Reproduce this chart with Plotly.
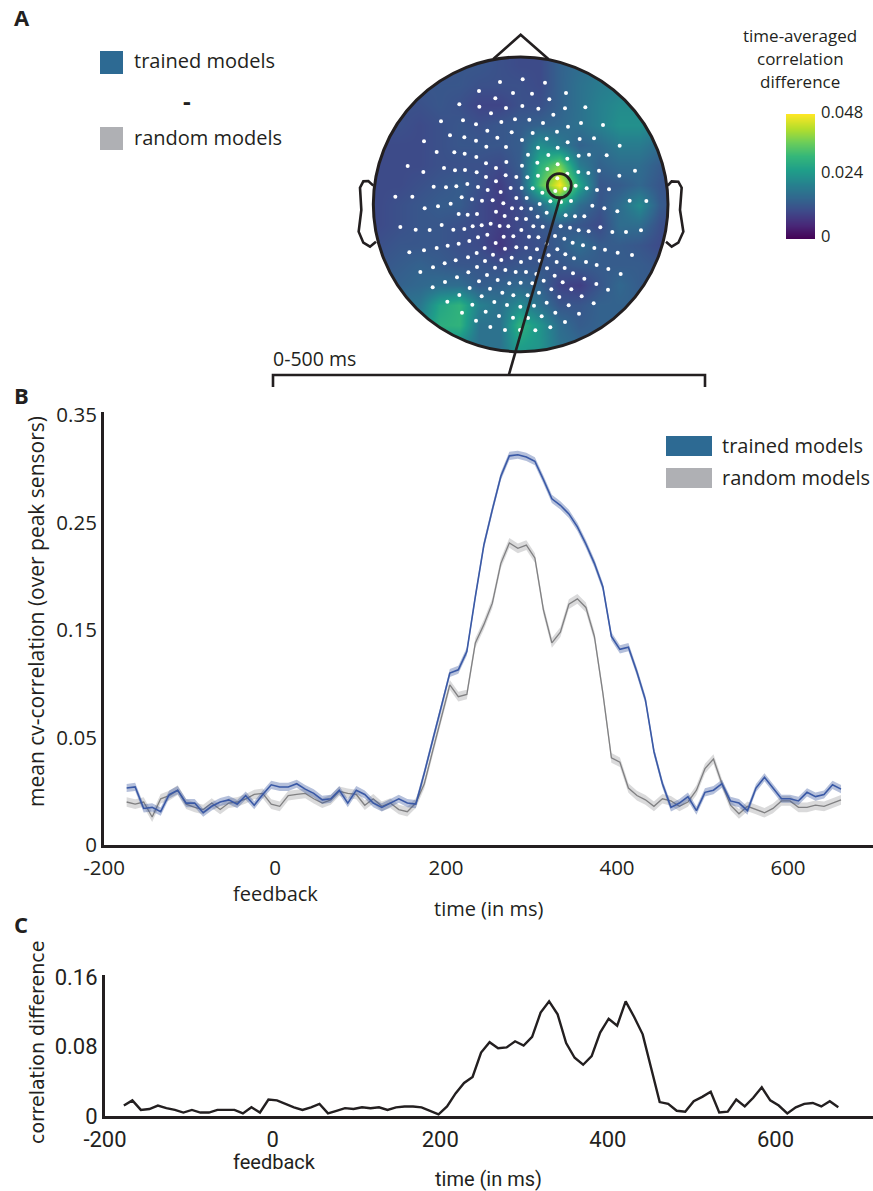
import numpy as np
import plotly.graph_objects as go

W, H = 873, 1191
INK = "#231f20"
FONT = "Open Sans"
FONT_C = "Roboto"

# ---------- panel B ----------
TRAINED_B = [.053,.054,.034,.035,.031,.047,.051,.039,.039,.030,.036,.040,.042,.038,.046,.037,.047,.056,.054,.054,
             .057,.052,.048,.042,.043,.051,.039,.051,.047,.039,.035,.039,.043,.039,.038,.067,.098,.128,.160,
             .163,.180,.231,.279,.312,.343,.362,.363,.361,.357,.340,.322,.316,.308,.296,.280,.262,.240,.194,.182,.184,
             .161,.135,.087,.057,.035,
             .039,.045,.032,.049,.051,.057,.041,.039,.032,.053,.063,.053,.043,.043,.041,.049,.045,.047,.056,.052]
RANDOM_B = [.040,.038,.040,.026,.043,.046,.051,.038,.035,.033,.039,.033,.039,.040,.043,.047,.048,.038,.036,.046,
            .047,.048,.043,.039,.042,.050,.048,.047,.037,.043,.036,.039,.033,.031,.039,
            .057,.088,.119,.149,.138,.140,.188,.205,.225,.262,.281,.276,.279,.267,.219,.188,.198,.224,.229,.221,.194,
            .141,.081,.077,.053,.046,.042,.036,.043,.041,
            .036,.040,.051,.071,.080,.057,.037,.029,.036,.033,.030,.034,.041,.041,.035,.035,.037,.036,.039,.042]
TRAINED_SEM = 0.0038
RANDOM_SEM = 0.0045
TIME_B = np.linspace(-173.5, 662, len(TRAINED_B))
B_TICK_POS = [0, .1, .2, .3, .4]
B_TICK_TEXT = ["0", "0.05", "0.15", "0.25", "0.35"]
X_TICKS = [-200, 0, 200, 400, 600]
X_TICK_TEXT = ["-200", "0", "200", "400", "600"]

# ---------- panel C ----------
DIFF_C = [.012,.018,.007,.008,.012,.009,.007,.004,.007,.004,.004,.007,.007,.007,.003,.010,.004,.019,.018,.014,
          .010,.007,.010,.014,.003,.006,.009,.008,.010,.009,.010,.007,.010,.011,.011,.010,.006,.002,
          .011,.026,.038,.045,.073,.085,.078,.079,.086,.081,.091,.119,.132,.117,.084,.067,.059,.069,.096,.112,.104,
          .132,.114,.094,.055,.016,
          .014,.006,.005,.017,.022,.028,.004,.005,.019,.011,.021,.033,.018,.012,.003,.010,.014,.015,.011,.017,.010]
TIME_C = np.linspace(-177.5, 675, len(DIFF_C))
C_TICKS = [0, .08, .16]
C_TICK_TEXT = ["0", "0.08", "0.16"]

# ---------- panel A ----------
HEAT_X = [28,88,148,208,268,328,388,448,508,568,628,688,748,808,868,928,988,1048]
HEAT_Y = [75,135,195,255,315,375,435,495,555,615,675,735,795,855,915,975,1035]
HEAT_MILLI = [
 [12,12,12,12,12,12,13,12,11,11,15,18,19,20,20,20,18,15],
 [12,12,12,12,12,13,13,12,11,11,15,17,19,20,20,20,18,15],
 [12,12,12,13,13,13,12,12,12,11,15,18,20,21,22,21,18,15],
 [12,12,12,12,13,12,10,10,12,12,15,18,21,23,23,21,18,15],
 [12,12,12,11,12,13,12,13,14,15,16,18,21,24,24,21,18,15],
 [11,11,11,11,12,13,13,13,14,24,20,15,17,20,20,17,15,14],
 [11,11,11,11,12,12,12,11,14,30,38,20,15,17,17,14,13,13],
 [11,11,11,12,13,14,12, 9,13,34,48,28,13,14,16,13,12,12],
 [11,11,12,13,14,14,11, 9,11,16,28,17,13,17,23,14,12,12],
 [11,11,12,13,13,12,11, 9,11,13,14,13,11,17,17,12,11,11],
 [12,12,13,13,13,12,11, 8,11,12,14,17,14,14,13,11,11,11],
 [13,13,14,15,14,13,13,12,13,13,13,14,14,14,14,13,12,12],
 [15,15,15,16,17,17,14,15,16,15,10, 9,13,16,14,14,13,13],
 [18,18,18,19,28,31,21,18,23,18,13,13,15,15,15,14,14,14],
 [20,20,20,22,30,31,18,18,31,25,17,14,15,15,15,14,14,14],
 [18,18,18,20,23,23,18,18,27,25,18,16,15,15,15,14,14,14],
 [18,18,18,18,20,20,18,18,24,22,18,16,15,15,15,14,14,14],
]
COLORBAR_VALUES = [0, .006, .012, .018, .024, .030, .036, .042, .048]
COLORBAR_TICKS = [("0.048", 112), ("0.024", 171), ("0", 235)]
SENSORS = [
 (450,186),(518,178),(585,188),(387,213),(489,219),(546,221),(648,219),(436,235),(598,238),
 (328,253),(388,260),(468,264),(517,258),(565,266),(645,265),(706,262),(423,280),(610,284),
 (273,304),(339,301),(378,313),(454,306),(495,298),(538,299),(579,309),(654,320),(693,309),(759,315),
 (412,332),(485,337),(548,339),(621,335),(300,346),(343,352),(442,353),(516,360),(590,356),(653,367),(689,357),(732,355),
 (222,364),(378,362),(409,380),(468,381),(564,383),(623,383),(809,377),
 (260,396),(313,397),(344,401),(534,404),(595,405),(652,416),(686,407),(717,404),(770,406),(379,411),
 (408,430),(469,426),(562,428),(623,433),(173,438),(282,444),(315,451),(345,450),(438,444),(516,437),(592,447),
 (220,456),(380,457),(685,456),(715,459),(747,452),(855,452),
 (408,471),(467,466),(499,471),(532,472),(564,467),(622,475),(652,461),(808,467),(438,484),
 (251,500),(288,502),(319,499),(352,492),(384,501),(482,504),(515,504),(548,505),(677,497),(710,505),(741,510),(777,508),
 (413,510),(452,516),(616,513),(645,506),(577,518),
 (136,530),(187,530),(335,532),(366,538),(396,542),(428,541),(499,534),(530,534),(601,544),(633,546),(663,543),(839,542),(889,543),
 (302,551),(460,550),(569,552),(224,565),(264,559),(486,565),(514,565),(543,566),(727,557),(763,565),(802,574),
 (326,582),(353,584),(381,582),(438,575),(464,588),(590,578),(647,586),(675,589),(703,589),(500,596),(528,597),(563,590),
 (151,621),(197,629),(239,630),(275,615),(310,629),(343,627),(368,619),(395,616),(422,611),(449,618),(475,619),(514,630),
 (550,619),(578,620),(632,619),(660,623),(686,631),(716,634),(751,622),(787,636),(828,636),(873,631),
 (384,652),(412,644),(461,650),(490,649),(537,650),(565,652),(615,648),(643,656),
 (358,663),(326,671),(293,677),(260,684),(222,691),(178,697),(437,669),(668,668),(699,676),(590,672),
 (404,684),(465,686),(499,682),(528,683),(561,688),(622,688),(733,684),(765,689),(803,698),(846,705),
 (380,699),(429,704),(646,703),(596,706),(354,712),(454,720),(485,713),(513,726),(541,714),(569,722),(672,715),(708,726),
 (317,721),(284,730),(249,742),(405,723),(620,726),(740,735),
 (381,741),(435,743),(466,750),(497,756),(528,756),(591,745),(644,744),(775,747),
 (211,756),(355,757),(411,765),(559,762),(614,767),(669,760),(812,762),
 (321,772),(285,786),(248,802),(443,780),(478,790),(512,788),(547,790),(581,782),(703,776),(387,784),(638,787),(739,792),
 (359,804),(420,806),(604,808),(664,808),(774,809),
 (328,825),(457,818),(490,826),(567,818),(533,826),(628,831),(695,829),
 (395,829),(292,845),(433,846),(590,848),(367,854),(471,855),(511,860),(552,857),(656,856),(731,850),
 (336,878),(407,875),(616,878),(687,881),(447,888),(489,893),(534,894),(575,889),(378,902),(645,906),
 (421,921),(465,930),(510,930),(556,931),(601,922),
]
HEAD_CX, HEAD_CY, HEAD_R = 512, 553, 442
PEAK_CX, PEAK_CY, PEAK_R = 628, 497, 36
NOSE = [(430,117),(512,44),(595,117)]
EAR_L = [(70,497),(55,483),(40,484),(30,503),(34,570),(26,635),(40,668),(60,680),(78,665)]
EAR_R = [(953,497),(965,484),(985,485),(995,503),(990,570),(1000,635),(985,668),(965,680),(948,665)]
BRACKET = [(-231,1101),(-231,1065),(1065,1065),(1065,1101)]
POINTER = [(630,533),(477,1063)]


def polyline(pts, close=False):
    s = "M " + " L ".join(f"{x} {y}" for x, y in pts)
    return s + (" Z" if close else "")


fig = go.Figure()

# head map (page-wide axes x3 / y3, 3 units per pixel)
fig.add_trace(go.Heatmap(
    x=HEAT_X, y=HEAT_Y, z=np.array(HEAT_MILLI) / 1000, zmin=0, zmax=0.048, zsmooth="best",
    colorscale="Viridis", xaxis="x3", yaxis="y3", hoverinfo="skip", showscale=False,
))
fig.add_trace(go.Scatter(
    x=[p[0] for p in SENSORS], y=[p[1] for p in SENSORS], mode="markers",
    marker=dict(color="white", size=4), xaxis="x3", yaxis="y3", hoverinfo="skip",
))
# colour bar as its own small heat strip
fig.add_trace(go.Heatmap(
    x=[0, 1], y=COLORBAR_VALUES, z=[[v, v] for v in COLORBAR_VALUES], zmin=0, zmax=0.048, zsmooth="best",
    colorscale="Viridis", xaxis="x4", yaxis="y4", hoverinfo="skip", showscale=False,
))

# panel B
for t, v, sem, band, col, lw in [
    (TIME_B, RANDOM_B, RANDOM_SEM, "rgba(140,140,142,0.32)", "#808082", 1.3),
    (TIME_B, TRAINED_B, TRAINED_SEM, "rgba(60,90,160,0.38)", "#3a59a6", 1.6),
]:
    v = np.array(v)
    fig.add_trace(go.Scatter(x=np.r_[t, t[::-1]], y=np.r_[v + sem, (v - sem)[::-1]], fill="toself",
                             fillcolor=band, mode="none", hoverinfo="skip", xaxis="x", yaxis="y"))
    fig.add_trace(go.Scatter(x=t, y=v, mode="lines", line=dict(color=col, width=lw), xaxis="x", yaxis="y"))

# panel C
fig.add_trace(go.Scatter(x=TIME_C, y=DIFF_C, mode="lines", line=dict(color=INK, width=2.4),
                         xaxis="x2", yaxis="y2"))

shapes = []
theta = np.linspace(0, 2 * np.pi, 241)
circle_pts = [(round(HEAD_CX + HEAD_R * np.cos(a), 1), round(HEAD_CY + HEAD_R * np.sin(a), 1)) for a in theta]
mask = "M -10 35 L 1090 35 L 1090 1075 L -10 1075 Z " + polyline(circle_pts, True)
shapes.append(dict(type="path", path=mask, xref="x3", yref="y3", fillcolor="white",
                   line=dict(width=0), fillrule="evenodd", layer="above"))
line_ink = dict(color=INK, width=2.6)
shapes.append(dict(type="circle", xref="x3", yref="y3", x0=HEAD_CX - HEAD_R, x1=HEAD_CX + HEAD_R,
                   y0=HEAD_CY - HEAD_R, y1=HEAD_CY + HEAD_R, line=dict(color=INK, width=3)))
shapes.append(dict(type="circle", xref="x3", yref="y3", x0=PEAK_CX - PEAK_R, x1=PEAK_CX + PEAK_R,
                   y0=PEAK_CY - PEAK_R, y1=PEAK_CY + PEAK_R, line=dict(color=INK, width=2.8)))
for pts in (NOSE, EAR_L, EAR_R, BRACKET, POINTER):
    shapes.append(dict(type="path", path=polyline(pts), xref="x3", yref="y3", line=line_ink,
                       fillcolor="rgba(0,0,0,0)"))


def swatch(x0, x1, y0, y1, color):
    shapes.append(dict(type="rect", xref="paper", yref="paper", x0=x0 / W, x1=x1 / W,
                       y0=1 - y0 / H, y1=1 - y1 / H, fillcolor=color, line=dict(width=0)))


BLUE_SW, GRAY_SW = "#2d6a93", "#afb0b4"
swatch(100, 123, 51, 74, BLUE_SW)
swatch(100, 123, 127, 150, GRAY_SW)
swatch(666, 712, 436, 456, BLUE_SW)
swatch(666, 712, 468, 488, GRAY_SW)

ann = []


def text(x, y, s, size=20, anchor="left", font=FONT, bold=False, angle=0):
    if bold:
        s = f"<b>{s}</b>"
    ann.append(dict(x=x / W, y=1 - y / H, xref="paper", yref="paper", text=s, showarrow=False,
                    xanchor=anchor, yanchor="middle", textangle=angle,
                    font=dict(family=font, size=size, color=INK)))


text(12, 17, "A", 22, bold=True)
text(12, 395, "B", 22, bold=True)
text(12, 924, "C", 22, bold=True)
text(132, 61, "trained models")
text(132, 137, "random models")
text(187, 101, "-", 24, "center", bold=True)
text(271, 359, "0-500 ms", 19.5)
text(800, 36, "time-averaged", 17, "center")
text(800, 59, "correlation", 17, "center")
text(800, 82, "difference", 17, "center")
for label, py in COLORBAR_TICKS:
    text(819, py, label, 16.5)
text(720, 445, "trained models")
text(720, 477, "random models")
text(36, 612, "mean cv-correlation (over peak sensors)", 21, "center", angle=-90)
text(275, 893, "feedback", 20, "center")
text(489, 908, "time (in ms)", 20, "center")
text(37, 1043, "correlation difference", 19, "center", font="DejaVu Sans", angle=-90)
text(274, 1162, "feedback", 20, "center", font=FONT_C)
text(488, 1179, "time (in ms)", 20, "center", font=FONT_C)

axis_line = dict(showline=True, linecolor=INK, linewidth=3, showgrid=False, zeroline=False, ticks="", automargin=False)
tf = dict(family=FONT, size=20.5, color=INK)
tfc = dict(family=FONT_C, size=22, color=INK)

fig.update_layout(
    width=W, height=H, autosize=False, showlegend=False, paper_bgcolor="white", plot_bgcolor="rgba(0,0,0,0)",
    margin=dict(l=0, r=0, t=0, b=0, pad=0), shapes=shapes, annotations=ann,
    xaxis=dict(domain=[104 / W, 1], range=[-200, 699.4], tickmode="array", tickvals=X_TICKS, ticktext=X_TICK_TEXT,
               tickfont=tf, anchor="y", ticklabelstandoff=2, **axis_line),
    yaxis=dict(domain=[1 - 845 / H, 1 - 412 / H], range=[0, 433 / 1075], tickmode="array", tickvals=B_TICK_POS,
               ticktext=B_TICK_TEXT, tickfont=tf, anchor="x", ticklabelstandoff=0, **axis_line),
    xaxis2=dict(domain=[105 / W, 1], range=[-200, 716.4], tickmode="array", tickvals=X_TICKS, ticktext=X_TICK_TEXT,
                tickfont=tfc, anchor="y2", ticklabelstandoff=2, **axis_line),
    yaxis2=dict(domain=[1 - 1116 / H, 1 - 975 / H], range=[0, 141 / 868.75], tickmode="array", tickvals=C_TICKS,
                ticktext=C_TICK_TEXT, tickfont=tfc, anchor="x2", ticklabelstandoff=0, **axis_line),
    xaxis3=dict(domain=[0, 1], range=[-1050, 1569], visible=False, anchor="y3", automargin=False),
    yaxis3=dict(domain=[0, 1], range=[3513, -60], visible=False, anchor="x3", automargin=False),
    xaxis4=dict(domain=[786 / W, 815 / W], range=[0, 1], visible=False, anchor="y4", automargin=False),
    yaxis4=dict(domain=[1 - 239 / H, 1 - 114 / H], range=[0, 0.048], visible=False, anchor="x4", automargin=False),
)

fig.write_html("out.html", post_script="document.body.style.margin='0';", config={"displayModeBar": False})
